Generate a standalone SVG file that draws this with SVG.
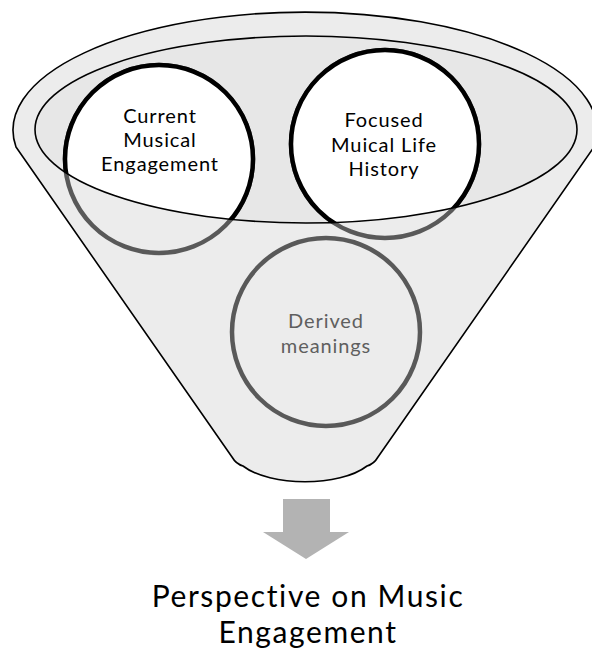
<svg xmlns="http://www.w3.org/2000/svg" width="592" height="651" viewBox="0 0 592 651">
  <style>
    .body { fill: #ececec; stroke: #000; stroke-width: 1.6; stroke-linejoin: round; }
    .inner { fill: #e7e7e7; stroke: none; }
    .innerline { fill: none; stroke: #000; stroke-width: 1.6; }
    .gray { fill: none; stroke: #595959; stroke-width: 4.5; }
    .black { fill: #fff; stroke: #000; stroke-width: 4.5; }
    .lbl { font-family: Lato, "Open Sans", "Liberation Sans", sans-serif; font-size: 20px; letter-spacing: 0.9px; fill: #000; text-anchor: middle; }
    .lblg { font-family: Lato, "Open Sans", "Liberation Sans", sans-serif; font-size: 20px; letter-spacing: 0.9px; fill: #5f5f5f; text-anchor: middle; }
    .out { font-family: Lato, "Open Sans", "Liberation Sans", sans-serif; font-size: 30px; letter-spacing: 1.6px; fill: #000; text-anchor: middle; }
  </style>
  <defs>
    <clipPath id="innerClip">
      <ellipse cx="306" cy="129.5" rx="271" ry="93.5"/>
    </clipPath>
  </defs>
  <rect width="592" height="651" fill="#fff"/>
  <g id="funnel">
    <path class="body" d="M16,147 A292,118 0 1 1 594,147 L378,457 Q374,464 367,466 C340,487 270,487 243,466 Q236,464 232,457 Z"/>
    <ellipse class="inner" cx="306" cy="129.5" rx="271" ry="93.5"/>
  </g>
  <g id="node-derived">
    <circle class="gray" cx="326" cy="332" r="94"/>
    <text class="lblg" x="326" y="328">Derived</text>
    <text class="lblg" x="326" y="353">meanings</text>
  </g>
  <g id="node-current">
    <circle class="gray" cx="159" cy="159" r="94"/>
    <circle class="black" cx="159" cy="159" r="94" clip-path="url(#innerClip)"/>
    <text class="lbl" x="160" y="123">Current</text>
    <text class="lbl" x="160" y="147">Musical</text>
    <text class="lbl" x="160" y="171">Engagement</text>
  </g>
  <g id="node-history">
    <circle class="gray" cx="385" cy="144" r="94"/>
    <circle class="black" cx="385" cy="144" r="94" clip-path="url(#innerClip)"/>
    <text class="lbl" x="384" y="127">Focused</text>
    <text class="lbl" x="384" y="152">Muical Life</text>
    <text class="lbl" x="384" y="176">History</text>
  </g>
  <g id="funnel-rim">
    <ellipse class="innerline" cx="306" cy="129.5" rx="271" ry="93.5"/>
  </g>
  <g id="connectors">
    <path d="M283,499 H330 V532 H349 L306,559 L263,532 H283 Z" fill="#b3b3b3"/>
  </g>
  <g id="node-result">
    <text class="out" x="308" y="607">Perspective on Music</text>
    <text class="out" x="308" y="643">Engagement</text>
  </g>
</svg>
